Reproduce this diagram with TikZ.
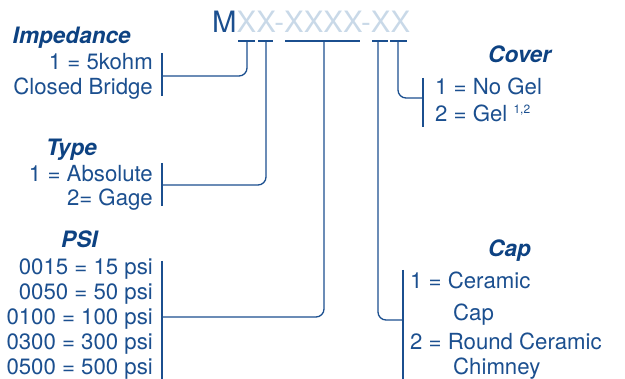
\documentclass[tikz,border=0pt]{standalone}
\usepackage{fontspec}
\setmainfont{TeX Gyre Heros}
\definecolor{dblue}{HTML}{1B4F8F}
\definecolor{hblue}{HTML}{0D4282}
\definecolor{lblue}{HTML}{C9D9E8}
\begin{document}
\begin{tikzpicture}[x=1pt,y=-1pt,
  txt/.style={inner sep=0pt,text=dblue,font=\fontsize{22.2}{25}\selectfont},
  head/.style={inner sep=0pt,text=hblue,font=\fontsize{22.6}{25}\selectfont\bfseries\itshape},
  ln/.style={draw=dblue,line width=1.3pt},
  conn/.style={ln,rounded corners=8pt}]
\useasboundingbox (0,0) rectangle (625,379);
% title
\node[inner sep=0pt,anchor=base west,font=\fontsize{29.4}{30}\selectfont] (title) at (212,33)
  {\textcolor{dblue}{M}\textcolor{lblue}{XX-XXXX-XX}};
% underline marks
\coordinate (u1a) at (238,41); \coordinate (u1b) at (255,41); \coordinate (t1) at (247,41);
\coordinate (u2a) at (258,41); \coordinate (u2b) at (273,41); \coordinate (t2) at (266,41);
\coordinate (u3a) at (285,41); \coordinate (u3b) at (360,41); \coordinate (t3) at (324,41);
\coordinate (u4a) at (372,41); \coordinate (u4b) at (388,41); \coordinate (t4) at (378,41);
\coordinate (u5a) at (390,41); \coordinate (u5b) at (407,41); \coordinate (t5) at (398,41);
\foreach \i in {1,...,5}{\draw[ln] (u\i a) -- (u\i b);}
% Impedance
\node[head,anchor=base east] (imph) at (131,44) {Impedance};
\node[txt,anchor=base east] (imp1) at (153,70) {1 = 5kohm};
\node[txt,anchor=base east] (imp2) at (153,95) {Closed Bridge};
\coordinate (ib1) at (162,53); \coordinate (ib2) at (162,96); \coordinate (ibm) at (162,76);
\draw[ln] (ib1) -- (ib2);
\draw[conn] (t1) |- (ibm);
% Type
\node[head,anchor=base west] (typh) at (46,156) {Type};
\node[txt,anchor=base east] (typ1) at (153,182) {1 = Absolute};
\node[txt,anchor=base east] (typ2) at (153,206) {2= Gage};
\coordinate (tb1) at (162,163); \coordinate (tb2) at (162,206); \coordinate (tbm) at (162,185);
\draw[ln] (tb1) -- (tb2);
\draw[conn] (t2) |- (tbm);
% PSI
\node[head,anchor=base west] (psih) at (61,248) {PSI};
\node[txt,anchor=base east] (p1) at (153,275) {0015 = 15 psi};
\node[txt,anchor=base east] (p2) at (153,300) {0050 = 50 psi};
\node[txt,anchor=base east] (p3) at (153,325) {0100 = 100 psi};
\node[txt,anchor=base east] (p4) at (153,350) {0300 = 300 psi};
\node[txt,anchor=base east] (p5) at (153,375) {0500 = 500 psi};
\coordinate (pb1) at (162,261); \coordinate (pb2) at (162,379); \coordinate (pbm) at (162,317);
\draw[ln] (pb1) -- (pb2);
\draw[conn] (t3) |- (pbm);
% Cover
\node[head,anchor=base west] (covh) at (488,63) {Cover};
\node[txt,anchor=base west] (c1) at (435,95) {1 = No Gel};
\node[txt,anchor=base west] (c2) at (435,122) {2 = Gel \fontsize{12}{12}\selectfont\raisebox{8pt}{1,2}};
\coordinate (cb1) at (423,78); \coordinate (cb2) at (423,127); \coordinate (cbm) at (423,98);
\draw[ln] (cb1) -- (cb2);
\draw[conn] (t5) |- (cbm);
% Cap
\node[head,anchor=base west] (caph) at (488,257) {Cap};
\node[txt,anchor=base west] (k1) at (410,289) {1 = Ceramic};
\node[txt,anchor=base west] (k2) at (453,321) {Cap};
\node[txt,anchor=base west] (k3) at (410,350) {2 = Round Ceramic};
\node[txt,anchor=base west] (k4) at (453,375) {Chimney};
\coordinate (kb1) at (403,270); \coordinate (kb2) at (403,379); \coordinate (kbm) at (403,320);
\draw[ln] (kb1) -- (kb2);
\draw[conn] (t4) |- (kbm);
\end{tikzpicture}
\end{document}
